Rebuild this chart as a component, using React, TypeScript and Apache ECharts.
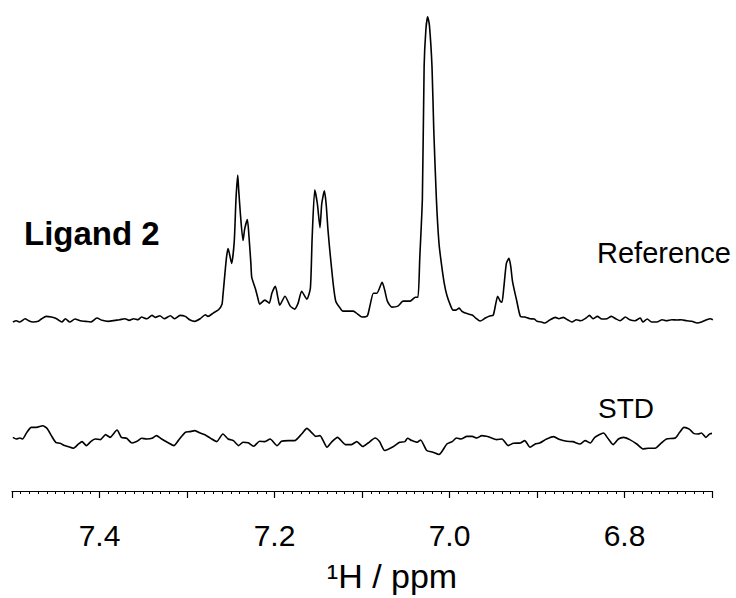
import React, { useEffect, useRef } from "react";
import * as echarts from "echarts";

// Reference 1H spectrum (ppm, intensity above its baseline)
const refPpm = [
  7.499, 7.495, 7.491, 7.485, 7.481, 7.476, 7.470, 7.466, 7.461, 7.455,
  7.449, 7.443, 7.439, 7.434, 7.428, 7.422, 7.416, 7.410, 7.403, 7.397,
  7.390, 7.382, 7.377, 7.371, 7.366, 7.361, 7.356, 7.352, 7.346, 7.340,
  7.336, 7.331, 7.326, 7.319, 7.314, 7.308, 7.302, 7.297, 7.291, 7.285,
  7.279, 7.276, 7.270, 7.264, 7.260, 7.259, 7.255, 7.253, 7.249, 7.246,
  7.244, 7.242, 7.241, 7.239, 7.236, 7.234, 7.231, 7.229, 7.227, 7.226,
  7.222, 7.219, 7.217, 7.211, 7.206, 7.203, 7.199, 7.196, 7.194, 7.188,
  7.182, 7.177, 7.173, 7.169, 7.163, 7.159, 7.157, 7.154, 7.151, 7.148,
  7.146, 7.143, 7.141, 7.139, 7.137, 7.133, 7.130, 7.125, 7.122, 7.116,
  7.110, 7.105, 7.100, 7.094, 7.091, 7.087, 7.083, 7.077, 7.074, 7.071,
  7.066, 7.059, 7.053, 7.045, 7.039, 7.036, 7.034, 7.031, 7.029, 7.027,
  7.025, 7.023, 7.020, 7.018, 7.015, 7.012, 7.009, 7.006, 7.003, 6.999,
  6.996, 6.993, 6.989, 6.986, 6.982, 6.974, 6.970, 6.965, 6.959, 6.954,
  6.950, 6.947, 6.945, 6.942, 6.940, 6.938, 6.935, 6.932, 6.930, 6.928,
  6.923, 6.919, 6.914, 6.908, 6.903, 6.900, 6.895, 6.891, 6.885, 6.879,
  6.875, 6.870, 6.865, 6.860, 6.855, 6.850, 6.844, 6.840, 6.836, 6.831,
  6.826, 6.820, 6.815, 6.810, 6.805, 6.799, 6.794, 6.788, 6.782, 6.779,
  6.774, 6.769, 6.763, 6.757, 6.752, 6.746, 6.740, 6.735, 6.729, 6.723,
  6.717, 6.712, 6.706, 6.702, 6.699,
];
const refIntensity = [
  -3, -1.7, -3, 0.3, -1.7, -3, -2.3, 0.3, 2.7, 2,
  0.3, -3, 0.3, -3, 0, -1.7, -2.3, -3, 1, -1.3,
  -2.3, -1.3, -0.7, 0.3, -1.3, 0.3, -0.7, 2, 0.3, 3.7,
  1.7, 3.3, 0.3, 3.3, 0.3, 3.7, 2.7, -0.7, -2.3, 0.3,
  4.3, 2.7, 6, 9.3, 15, 23, 61, 71, 56, 78,
  121, 145, 131, 106, 79, 91, 100, 81, 56, 42,
  31, 21, 15, 19, 16, 26, 33, 21, 14, 23,
  13, 10, 16, 28, 20, 31, 81, 130, 116, 92,
  116, 129, 116, 91, 71, 36, 18, 11, 8, 8,
  8, 5, 2, 3, 13, 26, 26, 37, 29, 18,
  12, 13, 18, 18, 22, 22, 61, 121, 254, 291,
  304, 296, 254, 191, 121, 76, 54, 36, 24, 14,
  9, 9, 11, 8, 6, 4, 1, -2, 1, 3,
  4, 16, 23, 18, 17, 31, 56, 61, 53, 38,
  17.7, 2.7, 2, 0.3, 0, -2.3, -3, -4, -0.7, 1.7,
  0.3, 1.7, -0.7, -3, -0.7, -1.7, 1, 3.7, 0.3, 2.7,
  0, 0.3, 2.7, 0.3, -1.7, 2, -0.7, -1.7, 1, -3,
  0, -3, -3, -0.7, -1.7, -0.7, -1, -0.7, -1.7, -2.3,
  -4, -3, -0.7, 0.3, -0.7,
];

// STD spectrum (ppm, intensity around its baseline)
const stdPpm = [
  7.499, 7.495, 7.491, 7.488, 7.483, 7.478, 7.472, 7.465, 7.460, 7.455,
  7.450, 7.445, 7.440, 7.436, 7.430, 7.424, 7.420, 7.415, 7.410, 7.405,
  7.399, 7.393, 7.388, 7.380, 7.375, 7.369, 7.363, 7.357, 7.352, 7.346,
  7.340, 7.335, 7.329, 7.321, 7.315, 7.310, 7.302, 7.297, 7.291, 7.285,
  7.279, 7.273, 7.266, 7.259, 7.253, 7.247, 7.241, 7.236, 7.230, 7.224,
  7.217, 7.211, 7.205, 7.197, 7.192, 7.184, 7.177, 7.169, 7.163, 7.157,
  7.153, 7.148, 7.140, 7.135, 7.128, 7.119, 7.112, 7.106, 7.099, 7.093,
  7.085, 7.080, 7.074, 7.064, 7.057, 7.051, 7.048, 7.043, 7.037, 7.033,
  7.026, 7.019, 7.012, 7.003, 6.997, 6.992, 6.987, 6.980, 6.974, 6.969,
  6.963, 6.958, 6.954, 6.946, 6.940, 6.933, 6.927, 6.919, 6.914, 6.908,
  6.902, 6.897, 6.889, 6.881, 6.874, 6.866, 6.859, 6.851, 6.845, 6.839,
  6.834, 6.824, 6.819, 6.813, 6.807, 6.801, 6.794, 6.786, 6.779, 6.773,
  6.765, 6.759, 6.752, 6.742, 6.737, 6.732, 6.726, 6.721, 6.716, 6.712,
  6.707, 6.703, 6.700,
];
const stdIntensity = [
  1, -0.7, 0.3, -0.7, 6, 11, 11, 12.7, 10, 2.7,
  -4, -5, -7.3, -8.3, -10, -5.7, -3.3, -7.3, -3.3, -0.7,
  -1.3, 3.7, 1, 8.3, 1, 0, -4.7, -3, 0, -0.7,
  0, 2.7, -0.7, -4.7, -7.3, -2.3, 6, 6.7, 7.7, 5.3,
  3.3, 0, -3.3, 4.3, -0.7, -2.3, -7.3, -4, -4.5, -8,
  -3, -3.3, -0.7, -7.3, -3, -2.3, -2.3, 4.3, 10, 5.3,
  2, 2.7, -9, -4, 1, -6.3, -6.3, -3.3, -8.3, -4.7,
  0.3, -3.3, -12.3, -8.3, -4, -3.3, 0, -2.3, -4, -1.7,
  -12.3, -14, -16.3, -5.7, -3.3, 0.3, -0.7, 2, 2, 0.3,
  2.7, 2, 1, -1.3, -0.7, -7.3, -5, -4.7, -2.3, -9,
  -5.7, -4.7, -0.7, 1.7, -1.3, -3, -3.3, -5.7, -2.3, -4.7,
  1, 5.3, 0, -6.3, -0.7, 1, -1.3, -5.7, -10.7, -10,
  -10, -5.7, -0.7, 0.3, 6, 11, 9.3, 5, 4.3, 5.3,
  1, 4.3, 5,
];

const REF_OFFSET = 173;
const STD_OFFSET = 53;

const X_MIN = 6.7;
const X_MAX = 7.5;

export default function App() {
  const ref = useRef<HTMLDivElement>(null);

  useEffect(() => {
    if (!ref.current) return;
    const chart = echarts.init(ref.current, null, { renderer: "svg" });
    const refData = refPpm.map((p, i) => [p, refIntensity[i] + REF_OFFSET]);
    const stdData = stdPpm.map((p, i) => [p, stdIntensity[i] + STD_OFFSET]);
    const font = "'Liberation Sans', Arial, Helvetica, sans-serif";

    chart.setOption({
      animation: false,
      backgroundColor: "#ffffff",
      grid: { left: 12, right: 24, top: 0, bottom: 104, containLabel: false },
      xAxis: {
        type: "value",
        min: X_MIN,
        max: X_MAX,
        interval: 0.1,
        inverse: true,
        name: "¹H / ppm",
        nameLocation: "middle",
        nameGap: 68,
        nameTextStyle: { color: "#000", fontSize: 34, fontFamily: font, padding: [0, 0, 0, 60] },
        axisLine: { show: true, onZero: false, lineStyle: { color: "#000", width: 1.2 } },
        axisTick: { show: true, length: 7, lineStyle: { color: "#000", width: 1.2 } },
        minorTick: { show: true, splitNumber: 10, length: 3, lineStyle: { color: "#000", width: 1 } },
        splitLine: { show: false },
        minorSplitLine: { show: false },
        axisLabel: {
          color: "#000",
          fontSize: 30,
          fontFamily: font,
          margin: 29,
          formatter: (v: number) => (Math.round(v * 10) % 2 === 0 ? v.toFixed(1) : ""),
        },
      },
      yAxis: {
        type: "value",
        min: 0,
        max: 494,
        show: false,
        splitLine: { show: false },
      },
      series: [
        {
          name: "Reference",
          type: "line",
          data: refData,
          showSymbol: false,
          smooth: 0.2,
          lineStyle: { color: "#000", width: 1.6 },
        },
        {
          name: "STD",
          type: "line",
          data: stdData,
          showSymbol: false,
          smooth: 0.2,
          lineStyle: { color: "#000", width: 1.6 },
        },
      ],
      graphic: [
        {
          type: "text",
          left: 24,
          top: 217,
          style: { text: "Ligand 2", fontSize: 33, fontWeight: "bold", fill: "#000", fontFamily: font },
        },
        {
          type: "text",
          left: 597,
          top: 238,
          style: { text: "Reference", fontSize: 29, fill: "#000", fontFamily: font },
        },
        {
          type: "text",
          left: 598,
          top: 394,
          style: { text: "STD", fontSize: 28, fill: "#000", fontFamily: font },
        },
      ],
    });
    return () => chart.dispose();
  }, []);

  return (
    <div
      ref={ref}
      style={{ position: "fixed", left: 0, top: 0, width: 736, height: 598, background: "#fff" }}
    />
  );
}
